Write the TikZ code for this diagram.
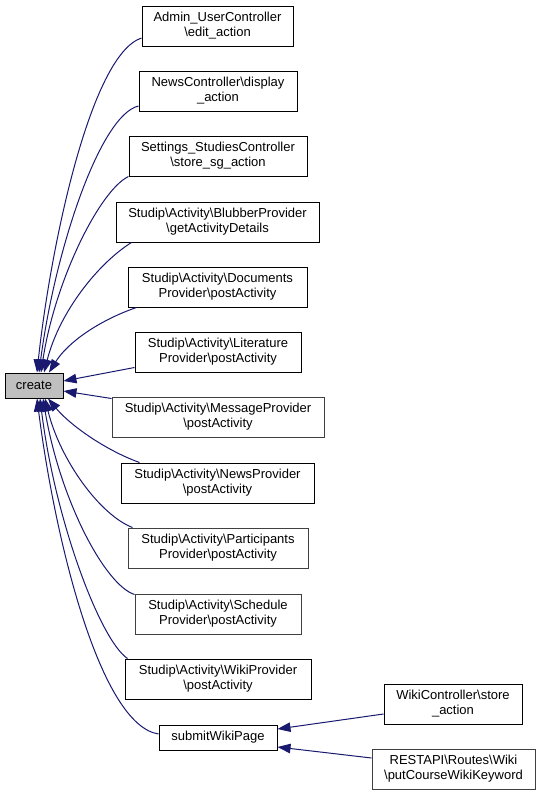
\documentclass[tikz,border=0pt]{standalone}
\usepackage{fontspec}
\setmainfont{Liberation Sans}
\usetikzlibrary{arrows.meta}
\definecolor{edgecol}{HTML}{191970}
\definecolor{greyb}{HTML}{404040}
\definecolor{createfill}{HTML}{BFBFBF}
\tikzset{
  box/.style={draw=black, line width=1pt, fill=white, inner sep=0pt, align=center,
    font=\fontsize{13}{15}\selectfont},
  gbox/.style={box, draw=greyb},
  edge/.style={draw=edgecol, line width=1pt, -{Triangle[length=13pt,width=9.5pt]}, fill=none},
}
\newcommand{\bs}{\textbackslash}
\begin{document}
\begin{tikzpicture}[x=1pt,y=-1pt]
\useasboundingbox (0,0) rectangle (540,796);
\fill[white] (0,0) rectangle (540,796);

\node[box, fill=createfill, minimum width=58pt, minimum height=25pt] (create) at (34,385.5) {create};

\node[box, minimum width=151pt, minimum height=40pt] (admin) at (217.5,26) {Admin\_UserController\\\bs edit\_action};
\node[box, minimum width=158pt, minimum height=40pt] (news) at (218,91) {NewsController\bs display\\\_action};
\node[box, minimum width=178pt, minimum height=40pt] (settings) at (218,156) {Settings\_StudiesController\\\bs store\_sg\_action};
\node[box, minimum width=203pt, minimum height=40pt] (blubber) at (217.5,222) {Studip\bs Activity\bs BlubberProvider\\\bs getActivityDetails};
\node[box, minimum width=179pt, minimum height=40pt] (documents) at (217.5,287) {Studip\bs Activity\bs Documents\\Provider\bs postActivity};
\node[box, minimum width=166pt, minimum height=40pt] (literature) at (218,352) {Studip\bs Activity\bs Literature\\Provider\bs postActivity};
\node[gbox, minimum width=212pt, minimum height=40pt] (message) at (218,417) {Studip\bs Activity\bs MessageProvider\\\bs postActivity};
\node[box, minimum width=193pt, minimum height=40pt] (newsprov) at (217.5,483) {Studip\bs Activity\bs NewsProvider\\\bs postActivity};
\node[gbox, minimum width=180pt, minimum height=40pt] (participants) at (218,548) {Studip\bs Activity\bs Participants\\Provider\bs postActivity};
\node[gbox, minimum width=166pt, minimum height=40pt] (schedule) at (218,614) {Studip\bs Activity\bs Schedule\\Provider\bs postActivity};
\node[box, minimum width=186pt, minimum height=40pt] (wiki) at (218,679) {Studip\bs Activity\bs WikiProvider\\\bs postActivity};
\node[box, minimum width=118pt, minimum height=25pt] (submit) at (218,737.5) {submitWikiPage};
\node[box, minimum width=138pt, minimum height=40pt] (wikictrl) at (453,704) {WikiController\bs store\\\_action};
\node[gbox, minimum width=163pt, minimum height=40pt] (restapi) at (453.5,769) {RESTAPI\bs Routes\bs Wiki\\\bs putCourseWikiKeyword};

% top group
\draw[edge] ([yshift=-12pt]admin.west) .. controls (90,55) and (50,250) .. ([xshift=3pt]create.north);
\draw[edge] ([yshift=-15pt]news.west) .. controls (100,115) and (55,250) .. ([xshift=5pt]create.north);
\draw[edge] (settings.south west) .. controls (100,190) and (55,280) .. ([xshift=7pt]create.north);
\draw[edge] ([xshift=16pt]blubber.south west) .. controls (100,262) and (60,310) .. ([xshift=10pt]create.north);
\draw[edge] ([xshift=9pt]documents.south west) .. controls (100,320) and (68,342) .. ([xshift=15pt]create.north);
\draw[edge] ([yshift=-15.5pt]literature.west) -- ([yshift=4.5pt]create.east);
\draw[edge] ([yshift=-2pt]message.north west) -- ([yshift=-5.5pt]create.east);
% bottom group
\draw[edge] ([xshift=19pt]newsprov.north west) .. controls (105,450) and (70,425) .. ([xshift=14pt]create.south);
\draw[edge] ([xshift=5pt]participants.north west) .. controls (100,515) and (60,460) .. ([xshift=11pt]create.south);
\draw[edge] ([yshift=-1pt]schedule.north west) .. controls (105,585) and (60,500) .. ([xshift=9pt]create.south);
\draw[edge] ([xshift=3pt]wiki.north west) .. controls (100,640) and (55,520) .. ([xshift=6pt]create.south);
\draw[edge] ([yshift=3.5pt]submit.west) .. controls (100,725) and (55,540) .. ([xshift=3pt]create.south);
% right
\draw[edge] ([yshift=-10pt]wikictrl.west) -- ([yshift=8.5pt]submit.east);
\draw[edge] ([yshift=11pt]restapi.west) -- ([yshift=-9.5pt]submit.east);
\end{tikzpicture}
\end{document}
